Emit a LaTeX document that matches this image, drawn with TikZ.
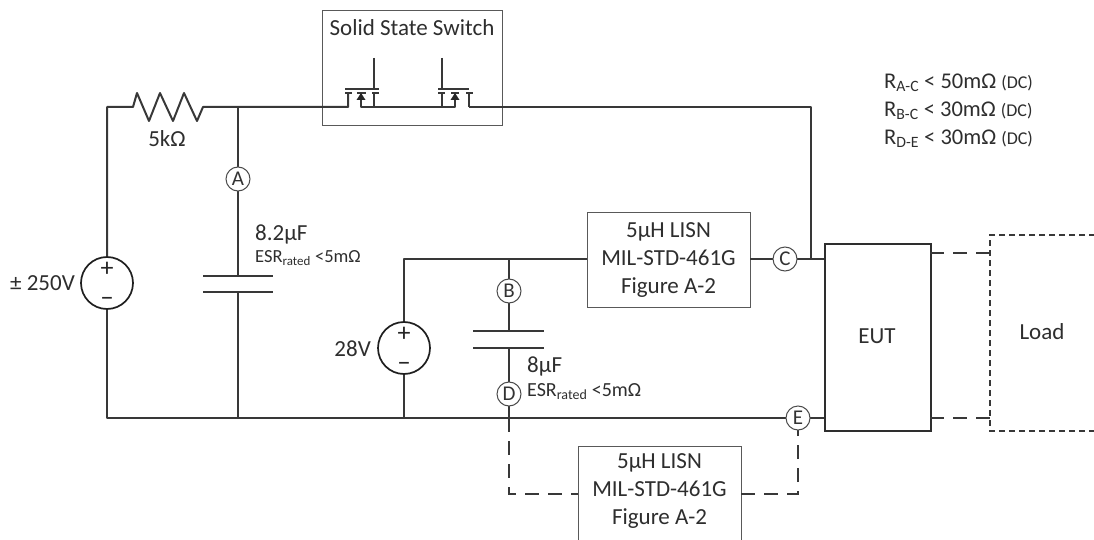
\documentclass[tikz,border=0pt]{standalone}
\usepackage{fontspec}
\setmainfont{Carlito}
\begin{document}
\begin{tikzpicture}[x=1pt,y=-1pt,
  wire/.style={draw=black!78,line width=2pt,line join=round},
  thinbox/.style={draw=black!65,line width=1pt,fill=white},
  eutbox/.style={draw=black!82,line width=2pt,fill=white},
  dashwire/.style={draw=black!78,line width=2pt,dash pattern=on 14pt off 9pt},
  loadbox/.style={draw=black!78,line width=2pt,dash pattern=on 6pt off 4pt},
  probe/.style={circle,draw=black!70,line width=1pt,fill=white,minimum size=24pt,inner sep=0pt,font=\fontsize{21}{21}\selectfont,text=black!80},
  source/.style={circle,draw=black!88,line width=1.7pt,fill=white,minimum size=52pt,inner sep=0pt},
  lbl/.style={inner sep=0pt,font=\fontsize{23}{28}\selectfont,text=black!82},
  small/.style={inner sep=0pt,font=\fontsize{18.5}{22}\selectfont,text=black!82},
  smallb/.style={inner sep=0pt,font=\fontsize{20}{24}\selectfont,text=black!82},
  ratio/.style={inner sep=0pt,font=\fontsize{22.5}{26}\selectfont,text=black!82},
  pol/.style={inner sep=0pt,font=\fontsize{26}{26}\selectfont,text=black!85},
  lisn/.style={lbl,align=center}]
\useasboundingbox (0,0) rectangle (1094,540);

% switch box
\node[thinbox,minimum width=180pt,minimum height=115pt,anchor=north west,inner sep=0pt] (swbox) at (322,10) {};
\node[lbl] (swlabel) at (412,28) {Solid State Switch};

% nodes
\node[source] (vs) at (107,283) {};
\node[pol] (vsp) at (107,269) {+};
\node[pol] (vsm) at (107,302) {−};
\node[source] (vb) at (404,348) {};
\node[pol] (vbp) at (404,334) {+};
\node[pol] (vbm) at (404,367) {−};
\coordinate (tl) at (107,107);
\coordinate (bl) at (107,418);
\coordinate (r1) at (133,107);
\coordinate (r2) at (203,107);
\coordinate (ja) at (238,107);
\coordinate (jb) at (238,418);
\coordinate (capat) at (238,276);
\coordinate (capab) at (238,292);
\coordinate (m1s) at (348,107);
\coordinate (m2s) at (469,107);
\coordinate (tr) at (811,107);
\coordinate (jc) at (811,259);
\coordinate (vbt) at (404,259);
\coordinate (vbb) at (404,418);
\coordinate (jd) at (509,259);
\coordinate (capbt) at (509,331);
\coordinate (capbb) at (509,348);
\coordinate (je) at (509,418);

\node[thinbox,minimum width=163pt,minimum height=95pt,anchor=north west,inner sep=0pt] (lisna) at (587,212) {};
\node[lisn] (lisnatext) at (668.5,260) {5µH LISN\\MIL-STD-461G\\Figure A-2};
\node[eutbox,minimum width=106pt,minimum height=187pt,anchor=north west,inner sep=0pt] (eut) at (824,243) {};
\node[lbl] (euttext) at (877,336) {EUT};
\draw[thinbox] (578,545) -- (578,446) -- (741,446) -- (741,545);
\node[lisn] (lisnbtext) at (659.5,491) {5µH LISN\\MIL-STD-461G\\Figure A-2};
\coordinate (lbm) at (578,494);
\coordinate (lbr) at (741,494);

% wires
\draw[wire] (vs) -- (tl) -- (r1) -- (137,93) -- (149,121) -- (160,93) -- (173,121) -- (184,93) -- (197,121) -- (r2) -- (ja) -- (m1s) -- (348,93);
\draw[wire] (vs) -- (bl) -- (jb) -- (vbb) -- (je) -- (798,418) -- (824,418);
\draw[wire] (ja) -- (capat);
\draw[wire] (capab) -- (jb);
\draw[wire] (203,276) -- (273,276);
\draw[wire] (203,292) -- (273,292);
\draw[wire] (vb) -- (vbt) -- (jd) -- (587,259);
\draw[wire] (vb) -- (vbb);
\draw[wire] (jd) -- (capbt);
\draw[wire] (capbb) -- (je);
\draw[wire] (473,331) -- (544,331);
\draw[wire] (473,348) -- (544,348);
\draw[wire] (750,259) -- (jc) -- (824,259);
\draw[wire] (m2s) -- (tr) -- (jc);

% MOSFET 1
\draw[wire] (374,58) -- (374,89);
\draw[wire] (345,89) -- (379,89);
\draw[wire] (345,93) -- (352,93);
\draw[wire] (357,93) -- (366,93);
\draw[wire] (372,93) -- (379,93);
\draw[wire] (361,93) -- (361,107) -- (374,107) -- (374,93);
\fill[black!85] (361,93) -- (365.5,100) -- (356.5,100) -- cycle;
% MOSFET 2
\draw[wire] (442,58) -- (442,89);
\draw[wire] (438,89) -- (469,89);
\draw[wire] (438,93) -- (445,93);
\draw[wire] (451,93) -- (459,93);
\draw[wire] (466,93) -- (473,93);
\draw[wire] (374,107) -- (455,107) -- (455,93);
\draw[wire] (442,93) -- (442,107);
\draw[wire] (469,93) -- (m2s);
\fill[black!85] (455,93) -- (459.5,100) -- (450.5,100) -- cycle;

% dashed
\coordinate (dd) at (509,494);
\coordinate (de) at (798,494);
\draw[dashwire] (je) -- (dd) -- (lbm);
\draw[dashwire] (lbr) -- (de) -- (798,418);
\draw[dashwire] (930,253) -- (990,253);
\draw[dashwire] (930,418) -- (990,418);
\draw[loadbox] (1095,235) -- (990,235) -- (990,431) -- (1095,431);
\node[lbl] (loadtext) at (1042,332) {Load};

% probes
\node[probe] (A) at (238,179) {A};
\node[probe] (B) at (509,291) {B};
\node[probe] (C) at (785,259) {C};
\node[probe] (D) at (509,394) {D};
\node[probe] (E) at (798,418) {E};

% labels
\node[lbl] (res) at (167,139) {5kΩ};
\node[lbl,anchor=east] (v1) at (75,283) {± 250V};
\node[lbl,anchor=east] (v2) at (371,349) {28V};
\node[lbl,anchor=west] (c1) at (255,234) {8.2µF};
\node[small,anchor=west] (e1) at (255,258) {ESR\textsubscript{rated} <5mΩ};
\node[lbl,anchor=west] (c2) at (527,366) {8µF};
\node[smallb,anchor=west] (e2) at (527,392) {ESR\textsubscript{rated} <5mΩ};
\node[ratio,anchor=west] (rac) at (884,83) {R\textsubscript{A-C} < 50mΩ {\fontsize{18}{20}\selectfont (DC)}};
\node[ratio,anchor=west] (rbc) at (884,111) {R\textsubscript{B-C} < 30mΩ {\fontsize{18}{20}\selectfont (DC)}};
\node[ratio,anchor=west] (rde) at (884,139) {R\textsubscript{D-E} < 30mΩ {\fontsize{18}{20}\selectfont (DC)}};
\end{tikzpicture}
\end{document}
